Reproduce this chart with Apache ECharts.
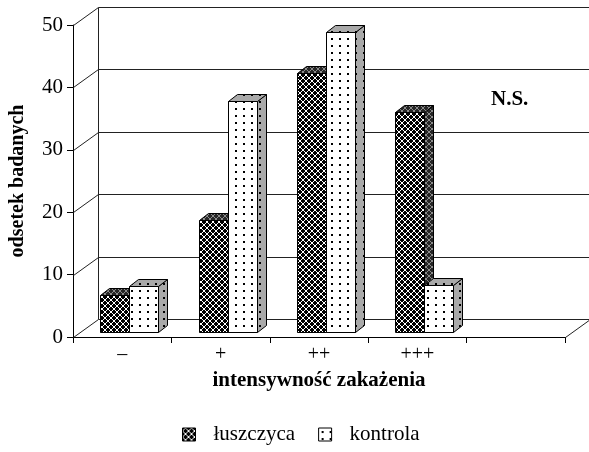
<!DOCTYPE html>
<html>
<head>
<meta charset="utf-8">
<script src="https://cdn.jsdelivr.net/npm/echarts@6/dist/echarts.min.js"></script>
<style>
html, body { margin: 0; padding: 0; background: #fff; }
#chart { width: 589px; height: 452px; }
</style>
</head>
<body>
<div id="chart"></div>
<script>
// dane
var categories = ['–', '+', '++', '+++', ''];
var yTicks = [0, 10, 20, 30, 40, 50];
var luszczyca = [6, 18, 41.5, 35.3];
var kontrola = [7.4, 37, 48, 7.5];
var seriesNames = ['łuszczyca', 'kontrola'];

// głębokość ścian i słupków (px)
var DX = 25, DY = 18;
var BX = 7, BY = 5;
var SX = 9, SY = 7;
var FONT = '"Liberation Serif", "Times New Roman", serif';

// wzory wypełnienia
function makePattern(w, h, bg, draw) {
    var c = document.createElement('canvas');
    c.width = w; c.height = h;
    var ctx = c.getContext('2d');
    ctx.fillStyle = bg;
    ctx.fillRect(0, 0, w, h);
    draw(ctx);
    return { image: c, repeat: 'repeat' };
}
// kółka: białe pierścienie na czarnym tle
function ring(ctx, col) {
    ctx.fillStyle = col;
    [[2,0],[3,0],[1,1],[4,1],[0,2],[5,2],[0,3],[5,3],[1,4],[4,4],[2,5],[3,5]].forEach(function (p) {
        ctx.fillRect(p[0], p[1], 1, 1);
    });
}
var darkFront = makePattern(6, 6, '#000', function (ctx) { ring(ctx, '#fff'); });
var darkSide = makePattern(6, 6, '#262626', function (ctx) { ring(ctx, '#8c8c8c'); });
var lightFront = makePattern(8, 7, '#fff', function (ctx) {
    ctx.fillStyle = '#000';
    ctx.fillRect(3, 3, 2, 2);
});
var lightSide = makePattern(8, 7, '#a9a9a9', function (ctx) {
    ctx.fillStyle = '#000';
    ctx.fillRect(3, 3, 2, 2);
});
var fills = [
    { front: darkFront, side: darkSide, top: darkSide },
    { front: lightFront, side: lightSide, top: lightSide }
];

function px(v) { return Math.round(v) + 0.5; }

// ściany i linie siatki
function renderFrame(params, api) {
    var v = api.value(1);
    var band = api.size([1, 0])[0];
    var p = api.coord([0, v]);
    var left = px(p[0] - band / 2);
    var right = px(api.coord([categories.length - 1, v])[0] + band / 2);
    var y = px(p[1]);
    var st = { stroke: '#222', lineWidth: 1 };
    var ch = [
        { type: 'line', shape: { x1: left, y1: y, x2: left + DX, y2: y - DY }, style: st },
        { type: 'line', shape: { x1: left + DX, y1: y - DY, x2: right + DX + 20, y2: y - DY }, style: st }
    ];
    if (v === 0) {
        var yTop = px(api.coord([0, yTicks[yTicks.length - 1]])[1]);
        ch.push({ type: 'line', shape: { x1: right, y1: y, x2: right + DX, y2: y - DY }, style: st });
        ch.push({ type: 'line', shape: { x1: left + DX, y1: y - DY, x2: left + DX, y2: yTop - DY }, style: st });
    }
    return { type: 'group', children: ch };
}

// słupki 3D
function makeBarRenderer(idx) {
    return function (params, api) {
        var cat = api.value(0), val = api.value(1);
        var c0 = api.coord([cat, 0]);
        var c1 = api.coord([cat, val]);
        var band = api.size([1, 0])[0];
        var w = Math.round(band * 0.295);
        var x0 = Math.round(c0[0] - w + idx * w + BX) + 0.5;
        var yb = Math.round(c0[1] - BY) + 0.5;
        var yt = Math.round(c1[1] - BY) + 0.5;
        var f = fills[idx];
        var st = { stroke: '#000', lineWidth: 1 };
        return {
            type: 'group',
            children: [
                { type: 'polygon', shape: { points: [[x0 + w, yt], [x0 + w + SX, yt - SY], [x0 + w + SX, yb - SY], [x0 + w, yb]] },
                  style: Object.assign({ fill: f.side }, st) },
                { type: 'polygon', shape: { points: [[x0, yt], [x0 + SX, yt - SY], [x0 + w + SX, yt - SY], [x0 + w, yt]] },
                  style: Object.assign({ fill: f.top }, st) },
                { type: 'rect', shape: { x: x0, y: yt, width: w, height: yb - yt },
                  style: Object.assign({ fill: f.front }, st) }
            ]
        };
    };
}

var chart = echarts.init(document.getElementById('chart'), null, { renderer: 'canvas' });
var option = {
    animation: false,
    backgroundColor: '#fff',
    textStyle: { fontFamily: FONT, color: '#000' },
    grid: { left: 72, top: 25, width: 493, height: 312 },
    legend: {
        data: seriesNames,
        bottom: 2,
        left: 177,
        icon: 'rect',
        itemWidth: 13,
        itemHeight: 13,
        itemGap: 23,
        itemStyle: { borderColor: '#000', borderWidth: 1 },
        textStyle: { fontFamily: FONT, fontSize: 21, color: '#000', padding: [0, 0, 0, 13] }
    },
    xAxis: {
        type: 'category',
        data: categories,
        name: 'intensywność zakażenia',
        nameLocation: 'middle',
        nameGap: 33,
        nameTextStyle: { fontFamily: FONT, fontSize: 21, fontWeight: 'bold', color: '#000' },
        axisLine: { lineStyle: { color: '#000', width: 1 } },
        axisTick: { show: true, interval: 0, length: 6, lineStyle: { color: '#000' } },
        axisLabel: { interval: 0, fontFamily: FONT, fontSize: 20, color: '#000', margin: 8 },
        splitLine: { show: false }
    },
    yAxis: {
        type: 'value',
        min: 0,
        max: 50,
        interval: 10,
        name: 'odsetek badanych',
        nameLocation: 'middle',
        nameGap: 45,
        nameTextStyle: { fontFamily: FONT, fontSize: 20, fontWeight: 'bold', color: '#000' },
        axisLine: { show: true, lineStyle: { color: '#000', width: 1 } },
        axisTick: { show: true, length: 6, lineStyle: { color: '#000' } },
        axisLabel: { fontFamily: FONT, fontSize: 21, color: '#000', margin: 10 },
        splitLine: { show: false }
    },
    graphic: [{
        type: 'text',
        left: 491,
        top: 89,
        style: { text: 'N.S.', font: 'bold 21px ' + FONT, fill: '#000' }
    }],
    series: [
        {
            type: 'custom',
            name: 'frame',
            silent: true,
            z: 1,
            renderItem: renderFrame,
            data: yTicks.map(function (v) { return [0, v]; })
        },
        {
            type: 'custom',
            name: seriesNames[0],
            z: 2,
            itemStyle: { color: darkFront, borderColor: '#000' },
            renderItem: makeBarRenderer(0),
            data: luszczyca.map(function (v, i) { return [i, v]; })
        },
        {
            type: 'custom',
            name: seriesNames[1],
            z: 3,
            itemStyle: { color: lightFront, borderColor: '#000' },
            renderItem: makeBarRenderer(1),
            data: kontrola.map(function (v, i) { return [i, v]; })
        }
    ]
};
chart.setOption(option);
</script>
</body>
</html>
